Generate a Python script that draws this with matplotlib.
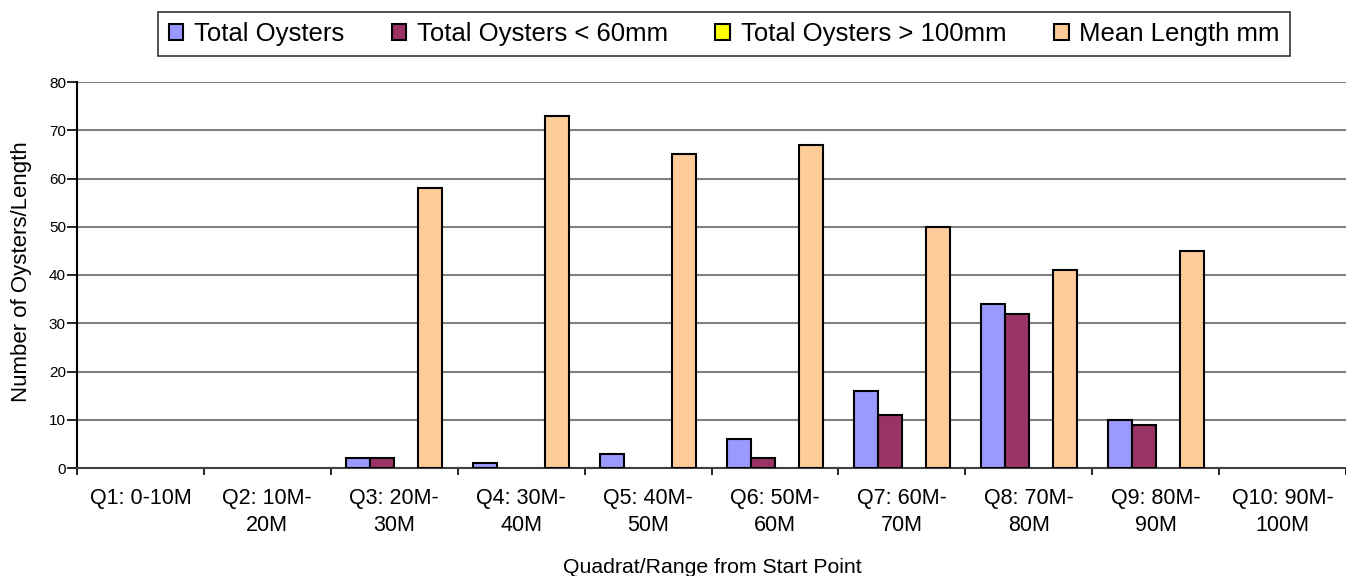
import numpy as np
from matplotlib import pyplot
from matplotlib.patches import Patch

pyplot.rcParams['font.family'] = ['Liberation Sans', 'DejaVu Sans']

#quadrat labels and counts:
quadrats     = ['Q1: 0-10M', 'Q2: 10M-\n20M', 'Q3: 20M-\n30M', 'Q4: 30M-\n40M', 'Q5: 40M-\n50M',
                'Q6: 50M-\n60M', 'Q7: 60M-\n70M', 'Q8: 70M-\n80M', 'Q9: 80M-\n90M', 'Q10: 90M-\n100M']
total        = [0, 0, 2, 1, 3, 6, 16, 34, 10, 0]
under60      = [0, 0, 2, 0, 0, 2, 11, 32, 9, 0]
over100      = [0, 0, 0, 0, 0, 0, 0, 0, 0, 0]
mean_length  = [0, 0, 58, 73, 65, 67, 50, 41, 45, 0]
series       = [total, under60, over100, mean_length]
names        = ['Total Oysters', 'Total Oysters < 60mm', 'Total Oysters > 100mm', 'Mean Length mm']
colors       = ['#9999FF', '#993366', '#FFFF00', '#FFCC99']


#plot:
pyplot.close('all')
fig = pyplot.figure(figsize=(13.46, 5.76), dpi=100)
W, H = 1346., 576.
ax  = fig.add_axes([77/W, (576-468)/H, (W-77)/W, 386/H])

x  = np.arange(len(quadrats))
w  = 1 / 5.3
for i,(y,c) in enumerate(zip(series, colors)):
	lws = [1.5 if v else 0 for v in y]   #no outline on empty bars
	ax.bar(x + (i-1.5)*w, y, width=w, color=c, edgecolor='k', linewidth=lws, zorder=3)

ax.set_xlim(-0.5, -0.5 + (W-77)/128.)
ax.set_ylim(0, 80)
ax.set_yticks(np.arange(0, 81, 10))
ax.yaxis.grid(True, color='#808080', lw=1.5, zorder=0)
ax.set_axisbelow(True)
for s in ['top', 'right']:
	ax.spines[s].set_visible(False)
ax.spines['left'].set_linewidth(1.5)
ax.spines['bottom'].set_linewidth(1.5)
ax.spines['bottom'].set_color('#404040')

ax.set_xticks(x)
ax.set_xticklabels(quadrats, size=15.5, linespacing=1.35)
ax.set_xticks(np.arange(-0.5, 10, 1), minor=True)
ax.tick_params(axis='x', which='major', length=0, pad=14.5)
ax.tick_params(axis='x', which='minor', length=5, width=1.2)
ax.tick_params(axis='y', labelsize=11, length=7, width=1.2, pad=1)

fig.text(22/W, 1 - 272/H, 'Number of Oysters/Length', size=16, rotation=90, ha='center', va='center')
fig.text(712/W, 1 - 573/H, 'Quadrat/Range from Start Point', size=15.3, ha='center', va='baseline')

handles = [Patch(facecolor=c, edgecolor='k', lw=1.5, label=n) for c,n in zip(colors, names)]
leg = fig.legend(handles=handles, loc='center', bbox_to_anchor=(724/W, 1 - 34/H), ncol=4, fontsize=18.5,
                 frameon=True, fancybox=False, edgecolor='k', handlelength=0.58, handleheight=0.58,
                 handletextpad=0.4, columnspacing=1.85, borderpad=0.4)
leg.get_frame().set_linewidth(1.2)

pyplot.savefig('out.png', dpi=100)
